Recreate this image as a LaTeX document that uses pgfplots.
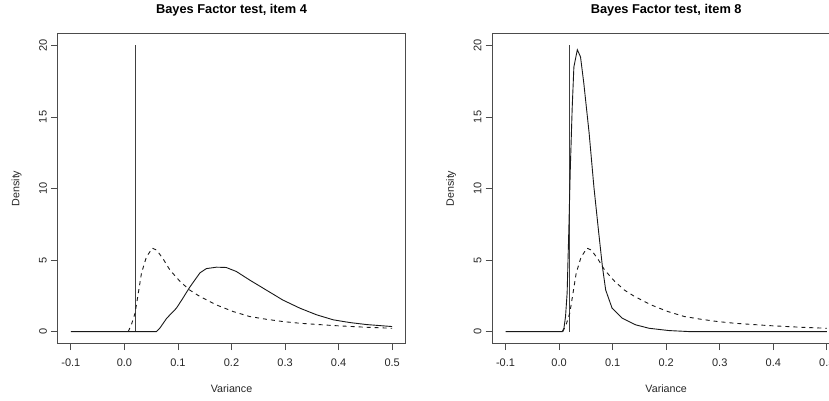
\documentclass[border=0pt]{standalone}
\usepackage{pgfplots}
\pgfplotsset{compat=1.18}
\usepackage{fontspec}
\setmainfont{Liberation Sans}
\definecolor{boxgray}{gray}{0.3}
\pgfplotsset{
  rbase/.style={
    scale only axis, width=347pt, height=309pt,
    xmin=-0.124, xmax=0.524, ymin=-0.8, ymax=20.8,
    axis line style={boxgray, line width=1pt},
    tick style={boxgray, line width=0.8pt},
    tick align=outside, major tick length=7pt,
    xtick={-0.1,0,0.1,0.2,0.3,0.4,0.5},
    xticklabels={-0.1,0.0,0.1,0.2,0.3,0.4,0.5},
    ytick={0,5,10,15,20},
    yticklabels={0,5,10,15,20},
    xtick pos=bottom, ytick pos=left,
    tick label style={font=\fontsize{11}{13}\selectfont, text=black!85},
    xticklabel style={anchor=center, yshift=-13pt},
    yticklabel style={rotate=90, anchor=center, yshift=8pt},
    label style={font=\fontsize{10.7}{13}\selectfont, text=black!85},
    xlabel={Variance}, ylabel={Density},
    xlabel style={at={(axis description cs:0.5,-0.1489)}, anchor=center},
    ylabel style={at={(axis description cs:-0.1196,0.5)}, anchor=center, rotate=0},
    every axis title/.style={at={(axis description cs:0.5,1.076)}, anchor=center, font=\bfseries\fontsize{12.8}{15}\selectfont},
    cycle list={{black!90, no marks}},
    every axis plot/.append style={line width=0.9pt, black!90, mark=none},
  },
  prior/.style={dash pattern=on 4pt off 4pt},
}
\begin{document}
\begin{tikzpicture}[x=1pt,y=1pt]
\useasboundingbox (0,0) rectangle (829pt,400pt);
\clip (0,0) rectangle (829pt,400pt);
\begin{axis}[rbase, at={(58pt,57pt)}, anchor=south west, title={Bayes Factor test, item 4}]
\addplot[black!75] coordinates {(0.02,0) (0.02,20)};
\addplot[black!90] coordinates {
(-0.1,0) (0.06,0) (0.066,0.23) (0.079,0.93) (0.097,1.63) (0.107,2.2) (0.122,3.1)
(0.141,4.1) (0.153,4.4) (0.172,4.5) (0.19,4.48) (0.209,4.2) (0.234,3.6)
(0.265,2.9) (0.296,2.2) (0.328,1.63) (0.359,1.17) (0.39,0.82) (0.421,0.63)
(0.452,0.49) (0.5,0.35)};
\addplot[black!90, prior] coordinates {
(0.007,0) (0.013,0.47) (0.02,1.3) (0.026,2.7) (0.032,4.1) (0.041,5.2) (0.052,5.83)
(0.06,5.7) (0.072,5.1) (0.085,4.3) (0.104,3.5) (0.122,2.9) (0.141,2.45)
(0.172,1.86) (0.203,1.4) (0.234,1.05) (0.265,0.86) (0.296,0.7) (0.328,0.58)
(0.39,0.42) (0.452,0.3) (0.5,0.23)};
\end{axis}
\begin{axis}[rbase, at={(492.7pt,57pt)}, anchor=south west, title={Bayes Factor test, item 8}]
\addplot[black!75] coordinates {(0.02,0) (0.02,20)};
\addplot[black!90] coordinates {
(-0.1,0) (0.006,0) (0.009,0.23) (0.012,1.05) (0.015,2.7) (0.018,6.9) (0.021,11.5)
(0.0245,15.7) (0.0276,18.5) (0.034,19.7) (0.040,19.2) (0.046,17.4) (0.056,13.9)
(0.065,10.1) (0.074,6.9) (0.081,4.5) (0.087,2.9) (0.099,1.63) (0.118,0.93)
(0.143,0.47) (0.168,0.23) (0.205,0.07) (0.242,0) (0.5,0)};
\addplot[black!90, prior] coordinates {
(0.007,0) (0.013,0.47) (0.02,1.3) (0.026,2.7) (0.032,4.1) (0.041,5.2) (0.052,5.83)
(0.06,5.7) (0.072,5.1) (0.085,4.3) (0.104,3.5) (0.122,2.9) (0.141,2.45)
(0.172,1.86) (0.203,1.4) (0.234,1.05) (0.265,0.86) (0.296,0.7) (0.328,0.58)
(0.39,0.42) (0.452,0.3) (0.5,0.23)};
\end{axis}
\end{tikzpicture}
\end{document}
